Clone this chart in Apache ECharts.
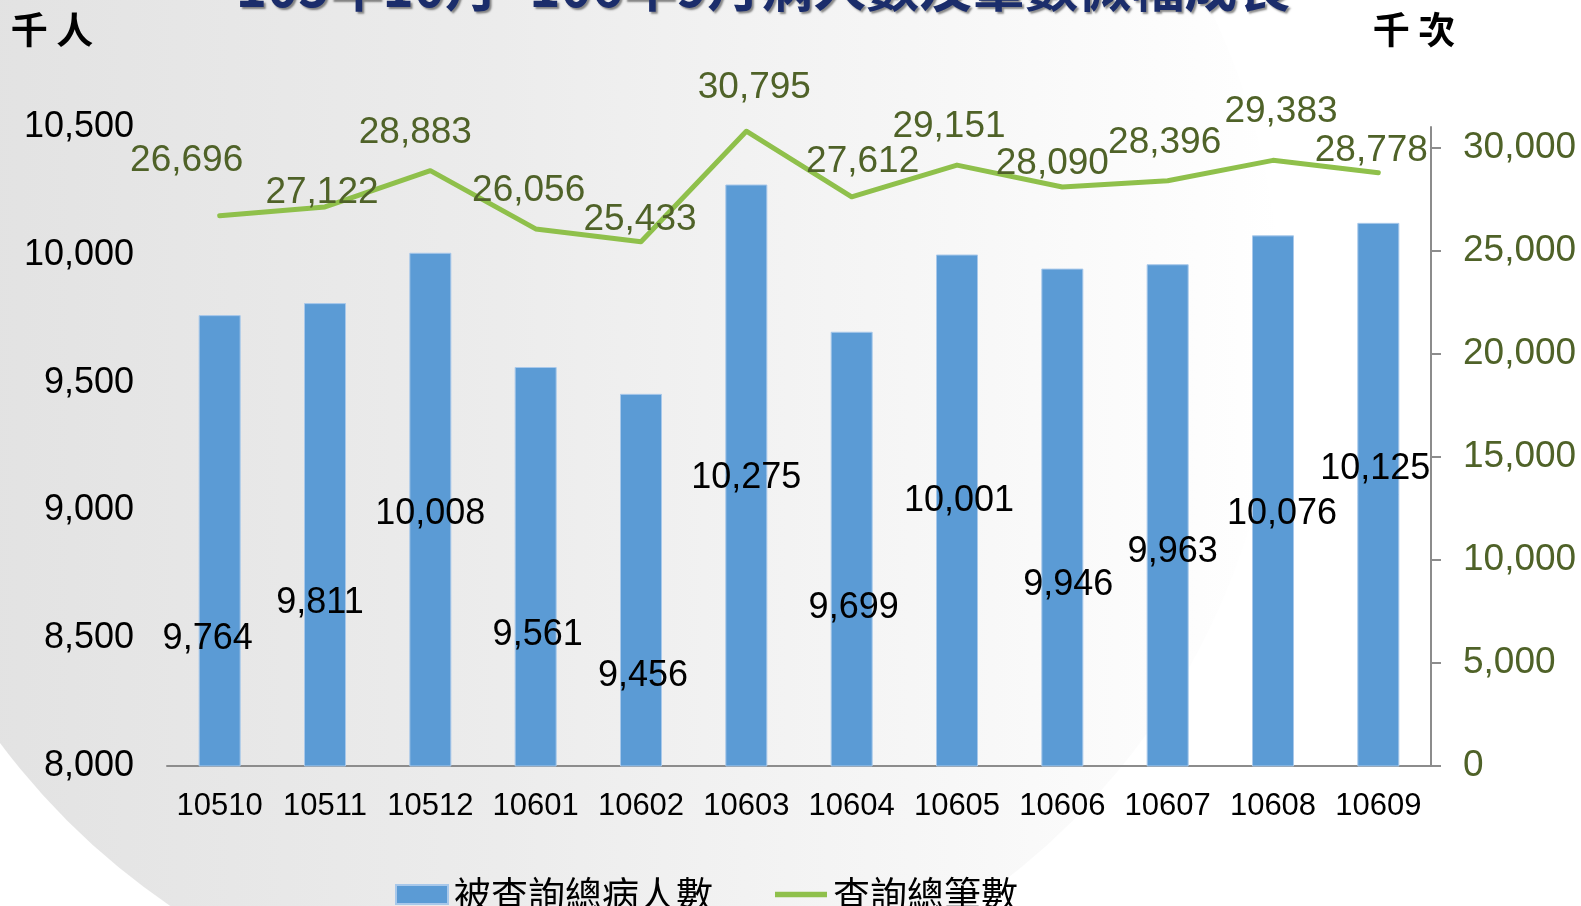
<!DOCTYPE html>
<html lang="zh-Hant">
<head>
  <meta charset="UTF-8">
  <title>病人數及筆數</title>
  <style>
    html, body { margin: 0; padding: 0; background: #fff; }
    #main { width: 1581px; height: 906px; }
  </style>
</head>
<body>
  <div id="main"></div>
  <script src="https://cdn.jsdelivr.net/npm/echarts@6/dist/echarts.min.js"></script>
  <script>
    // data
    var months = ['10510', '10511', '10512', '10601', '10602', '10603', '10604', '10605', '10606', '10607', '10608', '10609'];
    var patients = [9764, 9811, 10008, 9561, 9456, 10275, 9699, 10001, 9946, 9963, 10076, 10125];   // 千人
    var queries = [26696, 27122, 28883, 26056, 25433, 30795, 27612, 29151, 28090, 28396, 29383, 28778]; // 千次
    var leftTicks = [8000, 8500, 9000, 9500, 10000, 10500];
    var rightTicks = [0, 5000, 10000, 15000, 20000, 25000, 30000];

    // where the labels sit (pixel offsets, as placed by hand in the original)
    var barLabelDy = [324, 300, 261, 268, 282, 294, 276, 247, 316, 288, 279, 246];
    var barLabelDx = [-12, -5, 0, 2, 2, 0, 2, 2, 6, 5, 9, -3];
    var lineLabelOff = [[-33, -55], [-3, -14], [-15, -38], [-7, -38], [-1, -22], [8, -43],
                        [11, -35], [-8, -38], [-10, -23], [-3, -38], [8, -49], [-7, -22]];

    var BLUE = '#5b9bd5';
    var GREEN = '#8fc04b';
    var DKGREEN = '#4f6228';
    var FONT = '"Liberation Sans", Arial, sans-serif';
    var CJK = '"Noto Sans CJK TC", sans-serif';

    function fmt(v) { return Number(v).toLocaleString('en-US'); }

    var chart = echarts.init(document.getElementById('main'), null, { renderer: 'canvas' });

    var option = {
      backgroundColor: '#ffffff',
      animation: false,
      graphic: [
        {
          type: 'circle', z: -10, silent: true,
          shape: { cx: 570, cy: 318, r: 711 },
          style: {
            fill: {
              type: 'linear', x: 0, y: 0, x2: 1, y2: 0,
              colorStops: [{ offset: 0, color: '#e0e0e0' }, { offset: 0.45, color: '#ececec' }, { offset: 1, color: '#ffffff' }]
            }
          }
        },
        {
          type: 'text', x: 763, y: -13, z: 10,
          style: {
            text: '105年10月~106年9月病人數及筆數微幅成長',
            font: 'bold 53px ' + CJK,
            fill: '#1b2d6b',
            align: 'center', verticalAlign: 'middle',
            textShadowColor: 'rgba(0,0,0,0.45)', textShadowOffsetX: 2, textShadowOffsetY: 2, textShadowBlur: 2
          }
        },
        {
          type: 'text', x: 52, y: 30, z: 10,
          style: { text: '千 人', font: 'bold 37px ' + CJK, fill: '#000', align: 'center', verticalAlign: 'middle' }
        },
        {
          type: 'text', x: 1414, y: 30, z: 10,
          style: { text: '千 次', font: 'bold 37px ' + CJK, fill: '#000', align: 'center', verticalAlign: 'middle' }
        }
      ],
      legend: {
        left: 390, top: 871,
        itemWidth: 52, itemHeight: 19, itemGap: 62,
        textStyle: { fontSize: 37, fontFamily: CJK, color: '#000', padding: [0, 0, 0, 1] },
        data: [
          { name: '被查詢總病人數', icon: 'rect' },
          { name: '查詢總筆數', icon: 'path://M0,0 L55,0 L55,6 L0,6 Z' }
        ]
      },
      grid: { left: 167, right: 150, top: 127, bottom: 140, containLabel: false },
      xAxis: {
        type: 'category',
        data: months,
        axisLine: { lineStyle: { color: '#8c8c8c', width: 2 } },
        axisTick: { show: false },
        axisLabel: { color: '#000', fontSize: 31, fontFamily: FONT, margin: 25, interval: 0 }
      },
      yAxis: [
        {
          type: 'value', min: leftTicks[0], max: leftTicks[leftTicks.length - 1], interval: 500,
          axisLine: { show: false }, axisTick: { show: false }, splitLine: { show: false },
          axisLabel: { color: '#000', fontSize: 36, fontFamily: FONT, margin: 33, padding: [6, 0, 0, 0], formatter: fmt, customValues: leftTicks }
        },
        {
          type: 'value', min: 0, max: 31000, interval: 5000, position: 'right',
          axisLine: { show: true, lineStyle: { color: '#8c8c8c', width: 2 } },
          axisTick: { show: true, length: 10, lineStyle: { color: '#8c8c8c', width: 2 }, customValues: rightTicks },
          splitLine: { show: false },
          axisLabel: { color: DKGREEN, fontSize: 37, fontFamily: FONT, margin: 32, padding: [6, 0, 0, 0], formatter: fmt, customValues: rightTicks }
        }
      ],
      series: [
        {
          name: '被查詢總病人數',
          type: 'bar',
          yAxisIndex: 0,
          barWidth: 42,
          itemStyle: { color: BLUE, borderColor: '#a8c8ea', borderWidth: 1 },
          data: patients.map(function (v, i) {
            return {
              value: v,
              label: {
                show: true,
                position: ['50%', barLabelDy[i]],
                offset: [barLabelDx[i], 0],
                align: 'center', verticalAlign: 'middle',
                color: '#000', fontSize: 36, fontFamily: FONT,
                formatter: function (p) { return fmt(p.value); }
              }
            };
          }),
          z: 2
        },
        {
          name: '查詢總筆數',
          type: 'line',
          yAxisIndex: 1,
          color: GREEN,
          symbol: 'circle', symbolSize: 2, showSymbol: true,
          lineStyle: { width: 5, color: GREEN, join: 'round', cap: 'round' },
          itemStyle: { color: GREEN },
          data: queries.map(function (v, i) {
            return {
              value: v,
              label: {
                show: true,
                position: 'inside',
                offset: lineLabelOff[i],
                color: DKGREEN, fontSize: 37, fontFamily: FONT,
                formatter: function (p) { return fmt(p.value); }
              }
            };
          }),
          z: 3
        }
      ]
    };

    option && chart.setOption(option);
  </script>
</body>
</html>
